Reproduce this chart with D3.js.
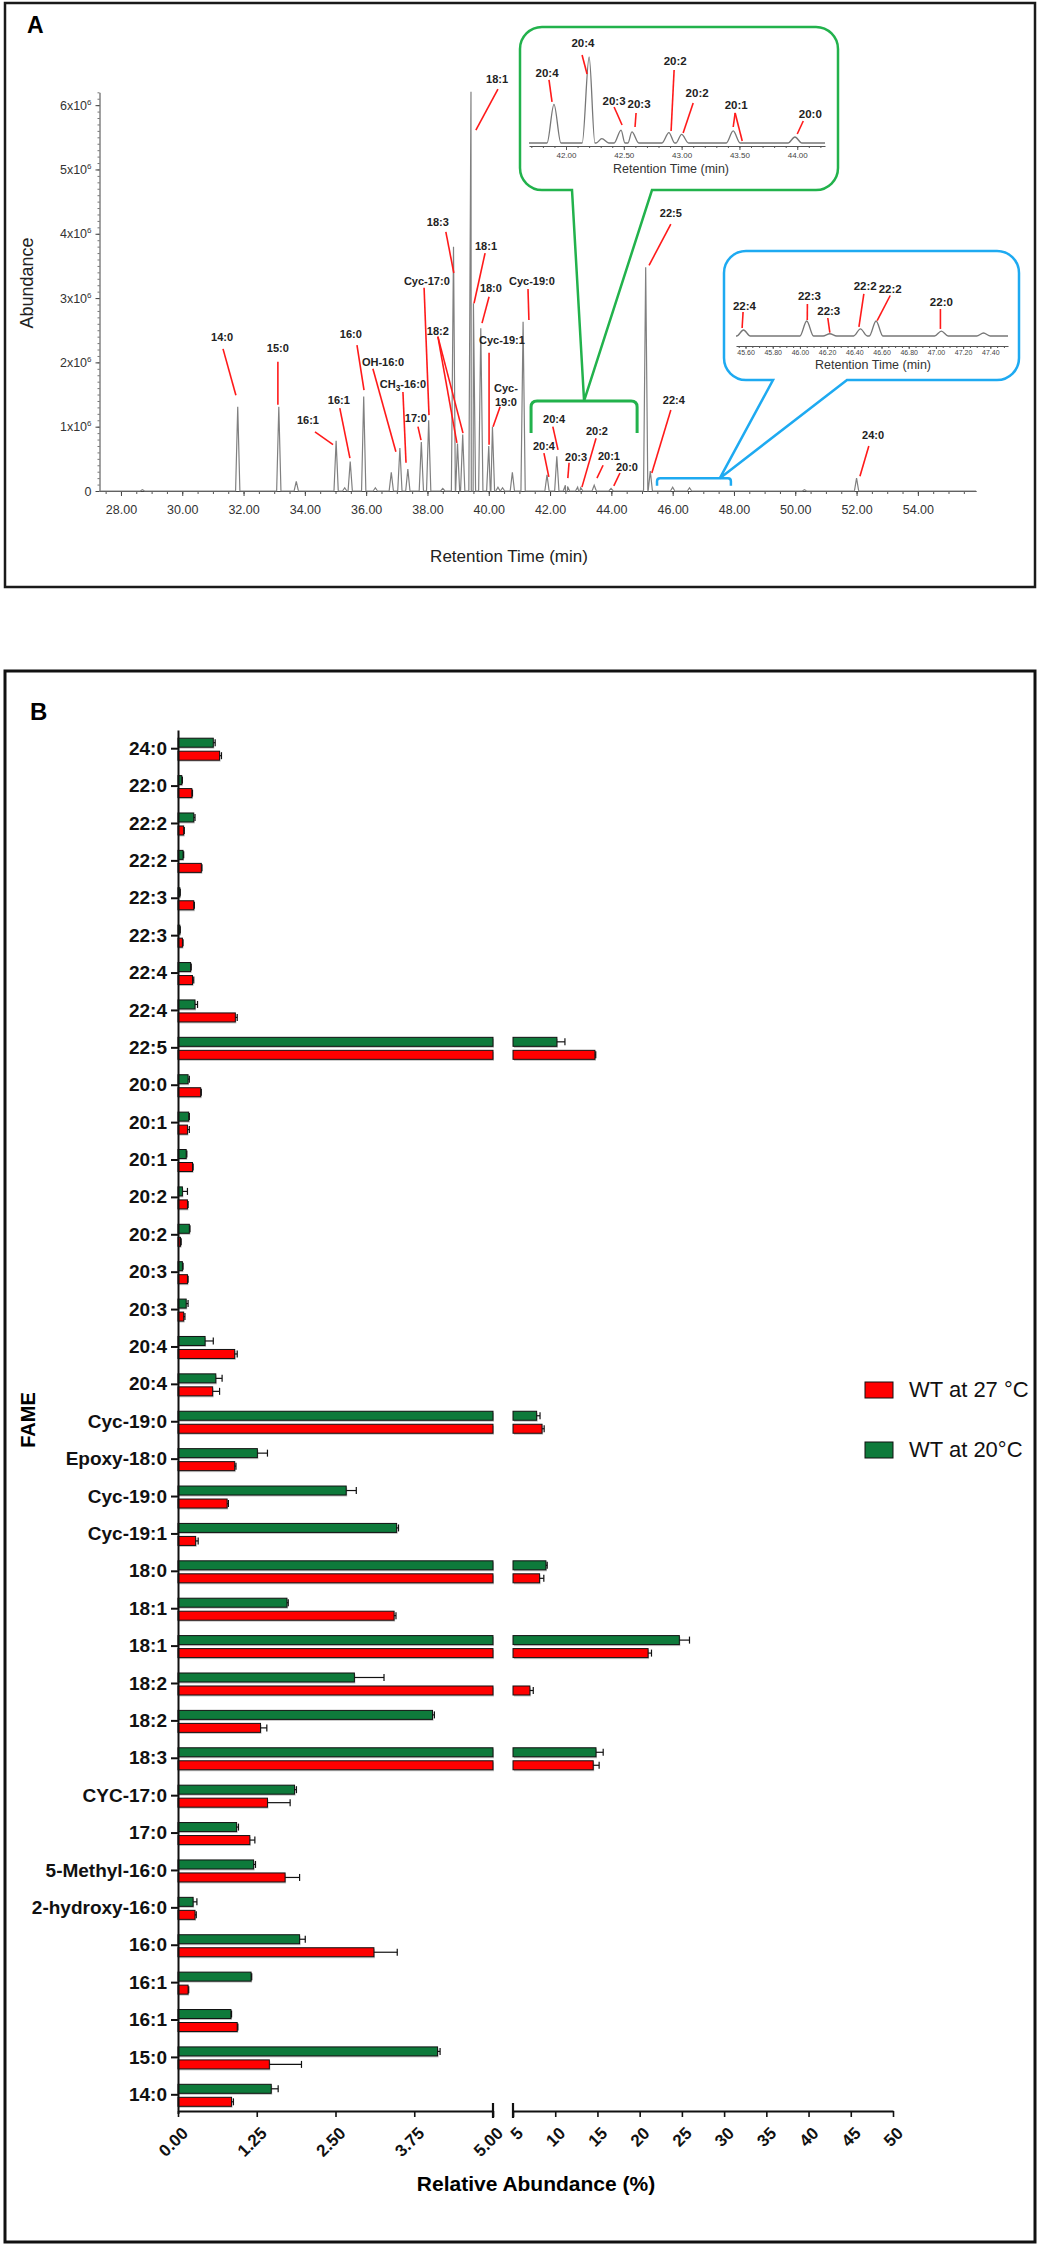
<!DOCTYPE html>
<html>
<head>
<meta charset="utf-8">
<script src="https://cdn.jsdelivr.net/npm/d3@7"></script>
<style>
  body { margin: 0; background: #fff; }
  svg { display: block; font-family: "Liberation Sans", Arial, sans-serif; }
</style>
</head>
<body>
<svg id="fig" width="1042" height="2252"></svg>
<script>
// ---------- Panel A data: GC-MS chromatogram ----------
// retention time (min) and abundance (x10^6) of each peak
const peakTimes   = [28.7, 31.81, 33.15, 33.72, 35.02, 35.30, 35.48, 35.92, 36.30, 36.82, 37.10, 37.36, 37.80, 38.04,
                     38.50, 38.85, 38.98, 39.15, 39.42, 39.50, 39.74, 40.00, 40.12, 40.30, 40.45, 40.77, 41.12,
                     41.90, 42.22, 42.50, 42.57, 42.90, 43.00, 43.44, 43.99, 45.12, 45.27, 46.00, 46.55, 50.30, 52.00];
const peakHeights = [0.02, 1.31, 1.31, 0.15, 0.78, 0.05, 0.46, 1.47, 0.05, 0.29, 0.67, 0.34, 0.76, 1.10,
                     0.04, 3.80, 0.74, 0.88, 6.21, 2.92, 2.53, 0.70, 1.00, 0.06, 0.05, 0.29, 2.63,
                     0.25, 0.54, 0.09, 0.07, 0.06, 0.05, 0.09, 0.04, 3.48, 0.31, 0.06, 0.05, 0.02, 0.20];
const timeTicks = [28, 30, 32, 34, 36, 38, 40, 42, 44, 46, 48, 50, 52, 54];
const abundanceTicks = [0, 1, 2, 3, 4, 5, 6];

// zoomed insets (relative intensity)
const greenTimes   = [41.896, 42.20, 42.31, 42.476, 42.57, 42.89, 43.00, 43.446, 43.98];
const greenHeights = [0.45, 1.0, 0.05, 0.15, 0.13, 0.12, 0.10, 0.14, 0.07];
const greenTicks   = [42, 42.5, 43, 43.5, 44];
const blueTimes    = [45.585, 46.05, 46.22, 46.445, 46.56, 47.04, 47.35];
const blueHeights  = [0.40, 1.0, 0.15, 0.47, 1.0, 0.33, 0.20];
const blueTicks    = [45.6, 45.8, 46.0, 46.2, 46.4, 46.6, 46.8, 47.0, 47.2, 47.4];

// peak annotations: label anchor, leader start and leader end(s) in data units
const mainLabels = [
  {text: '14:0', at: [31.30, 2.40], from: [31.33, 2.21], to: [[31.75, 1.49]]},
  {text: '15:0', at: [33.12, 2.22], from: [33.12, 2.01], to: [[33.12, 1.34]]},
  {text: '16:1', at: [35.11, 1.42], from: [35.14, 1.29], to: [[35.47, 0.51]]},
  {text: '16:1', at: [34.10, 1.10], from: [34.33, 0.92], to: [[34.92, 0.72]]},
  {text: '16:0', at: [35.50, 2.44], from: [35.70, 2.27], to: [[35.93, 1.57]]},
  {text: 'OH-16:0', at: [36.55, 2.01], from: [36.22, 1.90], to: [[36.97, 0.61]]},
  {text: 'CH|3|-16:0', at: [37.20, 1.66], from: [37.20, 1.54], to: [[37.30, 0.44]]},
  {text: '17:0', at: [37.62, 1.14], from: [37.69, 1.00], to: [[37.79, 0.79]]},
  {text: 'Cyc-17:0', at: [37.98, 3.27], from: [37.89, 3.16], to: [[38.05, 1.18]]},
  {text: '18:3', at: [38.34, 4.18], from: [38.60, 4.03], to: [[38.86, 3.39]]},
  {text: '18:1', at: [40.27, 6.41], from: [40.30, 6.25], to: [[39.58, 5.61]]},
  {text: '18:1', at: [39.91, 3.81], from: [39.88, 3.70], to: [[39.52, 2.92]]},
  {text: '18:0', at: [40.07, 3.16], from: [40.01, 3.02], to: [[39.78, 2.61]]},
  {text: '18:2', at: [38.34, 2.49], from: [38.34, 2.40], to: [[38.96, 0.75], [39.16, 0.90]]},
  {text: 'Cyc-19:1', at: [40.43, 2.35], from: [40.01, 2.15], to: [[40.01, 0.72]]},
  {text: 'Cyc-\n19:0', at: [40.56, 1.60], from: [40.37, 1.31], to: [[40.14, 1.00]]},
  {text: 'Cyc-19:0', at: [41.41, 3.27], from: [41.28, 3.14], to: [[41.31, 2.66]]},
  {text: '20:4', at: [41.80, 0.70], from: [41.80, 0.59], to: [[41.96, 0.22]]},
  {text: '20:4', at: [42.13, 1.12], from: [42.09, 1.00], to: [[42.26, 0.64]]},
  {text: '20:3', at: [42.85, 0.53], from: [42.62, 0.44], to: [[42.58, 0.20]]},
  {text: '20:2', at: [43.53, 0.93], from: [43.50, 0.82], to: [[43.04, 0.06]]},
  {text: '20:1', at: [43.92, 0.54], from: [43.73, 0.40], to: [[43.53, 0.20]]},
  {text: '20:0', at: [44.51, 0.37], from: [44.28, 0.28], to: [[44.08, 0.08]]},
  {text: '22:5', at: [45.94, 4.32], from: [45.94, 4.15], to: [[45.23, 3.51]]},
  {text: '22:4', at: [46.04, 1.42], from: [45.94, 1.26], to: [[45.32, 0.28]]},
  {text: '24:0', at: [52.54, 0.87], from: [52.40, 0.70], to: [[52.11, 0.23]]}
];
const greenLabels = [
  {text: '20:4', at: [41.836, 0.814], from: [41.853, 0.733], to: [[41.879, 0.477]]},
  {text: '20:4', at: [42.147, 1.163], from: [42.139, 1.023], to: [[42.182, 0.802]]},
  {text: '20:3', at: [42.416, 0.488], from: [42.416, 0.419], to: [[42.485, 0.209]]},
  {text: '20:3', at: [42.632, 0.453], from: [42.606, 0.349], to: [[42.597, 0.186]]},
  {text: '20:2', at: [42.944, 0.953], from: [42.935, 0.849], to: [[42.909, 0.140]]},
  {text: '20:2', at: [43.134, 0.581], from: [43.100, 0.465], to: [[43.013, 0.116]]},
  {text: '20:1', at: [43.472, 0.442], from: [43.463, 0.349], to: [[43.446, 0.186], [43.524, 0.023]]},
  {text: '20:0', at: [44.113, 0.337], from: [44.052, 0.256], to: [[44.0, 0.105]]}
];
const blueLabels = [
  {text: '22:4', at: [45.592, 2.03], from: [45.582, 1.6], to: [[45.575, 0.53]]},
  {text: '22:3', at: [46.07, 2.67], from: [46.055, 2.13], to: [[46.054, 1.07]]},
  {text: '22:3', at: [46.212, 1.67], from: [46.205, 1.2], to: [[46.22, 0.23]]},
  {text: '22:2', at: [46.48, 3.33], from: [46.47, 2.81], to: [[46.434, 0.61]]},
  {text: '22:2', at: [46.664, 3.13], from: [46.664, 2.70], to: [[46.568, 1.02]]},
  {text: '22:0', at: [47.04, 2.27], from: [47.033, 1.8], to: [[47.033, 0.47]]}
];

// ---------- Panel B data: relative abundance (%) ----------
const fames = ['24:0', '22:0', '22:2', '22:2', '22:3', '22:3', '22:4', '22:4', '22:5', '20:0', '20:1', '20:1',
  '20:2', '20:2', '20:3', '20:3', '20:4', '20:4', 'Cyc-19:0', 'Epoxy-18:0', 'Cyc-19:0', 'Cyc-19:1', '18:0',
  '18:1', '18:1', '18:2', '18:2', '18:3', 'CYC-17:0', '17:0', '5-Methyl-16:0', '2-hydroxy-16:0', '16:0',
  '16:1', '16:1', '15:0', '14:0'];
const wt20    = [0.56, 0.06, 0.25, 0.08, 0.03, 0.03, 0.20, 0.27, 10.2, 0.16, 0.17, 0.13, 0.07, 0.18, 0.07, 0.13,
  0.43, 0.60, 7.8, 1.26, 2.67, 3.47, 8.9, 1.73, 24.7, 2.80, 4.04, 14.83, 1.85, 0.93, 1.20, 0.24, 1.93, 1.16,
  0.84, 4.12, 1.48];
const wt20Err = [0.03, 0.01, 0.02, 0.01, 0.005, 0.005, 0.01, 0.04, 0.95, 0.02, 0.01, 0.01, 0.08, 0.01, 0.01,
  0.03, 0.13, 0.10, 0.4, 0.16, 0.16, 0.03, 0.15, 0.02, 1.2, 0.47, 0.03, 0.85, 0.03, 0.03, 0.03, 0.06, 0.09,
  0.01, 0.01, 0.04, 0.11];
const wt27    = [0.66, 0.22, 0.09, 0.37, 0.25, 0.07, 0.23, 0.91, 14.7, 0.36, 0.15, 0.23, 0.15, 0.04, 0.15, 0.09,
  0.90, 0.55, 8.44, 0.90, 0.78, 0.28, 8.15, 3.43, 21.0, 7.0, 1.31, 14.5, 1.42, 1.14, 1.70, 0.27, 3.11, 0.16,
  0.94, 1.45, 0.85];
const wt27Err = [0.03, 0.01, 0.01, 0.01, 0.01, 0.01, 0.02, 0.03, 0.1, 0.01, 0.03, 0.01, 0.01, 0.01, 0.01, 0.02,
  0.04, 0.11, 0.25, 0.02, 0.02, 0.04, 0.5, 0.03, 0.4, 0.4, 0.10, 0.7, 0.36, 0.08, 0.23, 0.02, 0.37, 0.01,
  0.01, 0.51, 0.03];
const lowTicks  = [0, 1.25, 2.5, 3.75, 5];
const highTicks = [5, 10, 15, 20, 25, 30, 35, 40, 45, 50];
const seriesNames = ['WT at 27 °C', 'WT at 20°C'];

const svg = d3.select('#fig');
const RED = '#ff0000';
const GREEN = '#0e7a3b';
const LEADER = '#ff1a1a';

function styleAxis(g, color, size) {
  g.attr('font-family', '"Liberation Sans", Arial, sans-serif').attr('font-size', size).attr('color', color);
}

function drawLabels(g, labels, xs, ys, size) {
  labels.forEach(l => {
    const sx = xs(l.from[0]), sy = ys(l.from[1]);
    l.to.forEach(p => {
      g.append('line')
        .attr('x1', sx).attr('y1', sy)
        .attr('x2', xs(p[0])).attr('y2', ys(p[1]))
        .attr('stroke', LEADER).attr('stroke-width', 1.6);
    });
    const tx = xs(l.at[0]);
    const text = g.append('text')
      .attr('x', tx).attr('y', ys(l.at[1]))
      .attr('text-anchor', 'middle')
      .attr('font-size', size).attr('font-weight', 'bold').attr('fill', '#222');
    l.text.split('\n').forEach((line, k) => {
      const row = text.append('tspan').attr('x', tx).attr('dy', k === 0 ? '0.35em' : 14);
      line.split('|').forEach((part, j) => {
        const t = row.append('tspan').text(part);
        if (j % 2 === 1) t.attr('font-size', size * 0.75).attr('dy', 3);
        else if (j > 0) t.attr('dy', -3);
      });
    });
  });
}

function tracePoints(times, heights, t0, t1, w) {
  const pts = [[t0, 0]];
  times.forEach((t, i) => pts.push([t - w, 0], [t, heights[i]], [t + w, 0]));
  pts.push([t1, 0]);
  return pts.sort((a, b) => a[0] - b[0]);
}

function bubble(x0, y0, x1, y1, r, tx0, tx1, px, py) {
  return `M${x0 + r},${y0} H${x1 - r} A${r},${r} 0 0 1 ${x1},${y0 + r} V${y1 - r} A${r},${r} 0 0 1 ${x1 - r},${y1}` +
    ` H${tx1} L${px},${py} L${tx0},${y1} H${x0 + r} A${r},${r} 0 0 1 ${x0},${y1 - r} V${y0 + r} A${r},${r} 0 0 1 ${x0 + r},${y0} Z`;
}

function bracket(xl, xr, yt, yb, r) {
  return `M${xl},${yb} V${yt + r} Q${xl},${yt} ${xl + r},${yt} H${xr - r} Q${xr},${yt} ${xr},${yt + r} V${yb}`;
}

// =============== Panel A ===============
svg.append('rect').attr('x', 5).attr('y', 3).attr('width', 1030).attr('height', 584)
  .attr('fill', 'none').attr('stroke', '#1a1a1a').attr('stroke-width', 2.5);
svg.append('text').attr('x', 27).attr('y', 33).attr('font-size', 23).attr('font-weight', 'bold').text('A');

const xA = d3.scaleLinear().domain([27.3, 55.9]).range([99.5, 976.1]);
const yA = d3.scaleLinear().domain([0, 6.2]).range([491, 92.3]);

const gA = svg.append('g');

// minor ticks
gA.append('g').attr('transform', 'translate(0,491)')
  .call(d3.axisBottom(xA).tickValues(d3.range(27.5, 56, 0.5)).tickSize(3).tickFormat(''))
  .call(g => g.select('.domain').remove())
  .call(g => styleAxis(g, '#555', 10));
gA.append('g').attr('transform', 'translate(99.5,0)')
  .call(d3.axisLeft(yA).tickValues(d3.range(0, 6.21, 0.1)).tickSize(2).tickFormat(''))
  .call(g => g.select('.domain').remove())
  .call(g => styleAxis(g, '#777', 10));

gA.append('g').attr('transform', 'translate(0,491)')
  .call(d3.axisBottom(xA).tickValues(timeTicks).tickFormat(d3.format('.2f')).tickSize(5).tickPadding(9).tickSizeOuter(0))
  .call(g => styleAxis(g, '#444', 12.5))
  .call(g => g.selectAll('.tick text').attr('fill', '#333'));

gA.append('g').attr('transform', 'translate(99.5,0)')
  .call(d3.axisLeft(yA).tickValues(abundanceTicks).tickSize(4).tickPadding(4).tickSizeOuter(0))
  .call(g => styleAxis(g, '#444', 12.5))
  .call(g => g.selectAll('.tick text').each(function (d) {
    const t = d3.select(this).text('').attr('fill', '#333');
    if (d === 0) { t.text('0'); return; }
    t.append('tspan').text(d + 'x10');
    t.append('tspan').attr('dy', -5).attr('font-size', 8).text('6');
  }));

gA.append('text').attr('transform', 'translate(33,283) rotate(-90)')
  .attr('text-anchor', 'middle').attr('font-size', 18).attr('fill', '#222').text('Abundance');
gA.append('text').attr('x', 509).attr('y', 562)
  .attr('text-anchor', 'middle').attr('font-size', 17).attr('fill', '#222').text('Retention Time (min)');

const lineA = d3.line().x(d => xA(d[0])).y(d => yA(d[1]));
gA.append('path')
  .attr('d', lineA(tracePoints(peakTimes, peakHeights, 27.3, 55.9, 0.07)))
  .attr('fill', 'none').attr('stroke', '#808080').attr('stroke-width', 1.2);

// brackets marking the zoomed regions
gA.append('path').attr('d', bracket(xA(41.38), xA(44.84), yA(1.40), yA(0.90), 6))
  .attr('fill', 'none').attr('stroke', '#22b24c').attr('stroke-width', 3);
gA.append('path').attr('d', bracket(xA(45.49), xA(47.90), yA(0.20), yA(0.08), 3))
  .attr('fill', 'none').attr('stroke', '#1eaaf1').attr('stroke-width', 2.5);

drawLabels(gA, mainLabels, xA, yA, 11);

// ---- green inset ----
const gG = svg.append('g');
gG.append('path').attr('d', bubble(520, 27, 838, 190, 22, 572, 652, xA((41.38 + 44.84) / 2), yA(1.40)))
  .attr('fill', '#fff').attr('stroke', '#22b24c').attr('stroke-width', 2.5);
const xG = d3.scaleLinear().domain([41.68, 44.24]).range([529, 825]);
const yG = d3.scaleLinear().domain([0, 1]).range([143, 57]);
gG.append('g').attr('transform', 'translate(0,146)')
  .call(d3.axisBottom(xG).tickValues(d3.range(41.7, 44.25, 0.1)).tickSize(2).tickFormat(''))
  .call(g => g.select('.domain').remove())
  .call(g => styleAxis(g, '#555', 8));
gG.append('g').attr('transform', 'translate(0,146)')
  .call(d3.axisBottom(xG).tickValues(greenTicks).tickFormat(d3.format('.2f')).tickSize(4).tickPadding(2).tickSizeOuter(0))
  .call(g => styleAxis(g, '#555', 8))
  .call(g => g.selectAll('.tick text').attr('fill', '#444'));
gG.append('path')
  .attr('d', d3.line().x(d => xG(d[0])).y(d => yG(d[1])).curve(d3.curveMonotoneX)(tracePoints(greenTimes, greenHeights, 41.68, 44.24, 0.06)))
  .attr('fill', 'none').attr('stroke', '#777').attr('stroke-width', 1.3);
gG.append('text').attr('x', 671).attr('y', 173).attr('text-anchor', 'middle')
  .attr('font-size', 12.5).attr('fill', '#333').text('Retention Time (min)');
drawLabels(gG, greenLabels, xG, yG, 11.5);

// ---- blue inset ----
const gB = svg.append('g');
gB.append('path').attr('d', bubble(724, 251, 1019, 380, 22, 773, 847, xA(47.54), yA(0.20)))
  .attr('fill', '#fff').attr('stroke', '#1eaaf1').attr('stroke-width', 2.5);
const xBl = d3.scaleLinear().domain([45.53, 47.53]).range([736, 1008]);
const yBl = d3.scaleLinear().domain([0, 1]).range([336, 321]);
gB.append('g').attr('transform', 'translate(0,346)')
  .call(d3.axisBottom(xBl).tickValues(d3.range(45.55, 47.53, 0.05)).tickSize(2).tickFormat(''))
  .call(g => g.select('.domain').remove())
  .call(g => styleAxis(g, '#555', 7));
gB.append('g').attr('transform', 'translate(0,346)')
  .call(d3.axisBottom(xBl).tickValues(blueTicks).tickFormat(d3.format('.2f')).tickSize(3).tickPadding(1).tickSizeOuter(0))
  .call(g => styleAxis(g, '#555', 7))
  .call(g => g.selectAll('.tick text').attr('fill', '#444'));
gB.append('path')
  .attr('d', d3.line().x(d => xBl(d[0])).y(d => yBl(d[1])).curve(d3.curveMonotoneX)(tracePoints(blueTimes, blueHeights, 45.53, 47.53, 0.05)))
  .attr('fill', 'none').attr('stroke', '#777').attr('stroke-width', 1.3);
gB.append('text').attr('x', 873).attr('y', 369).attr('text-anchor', 'middle')
  .attr('font-size', 12.5).attr('fill', '#333').text('Retention Time (min)');
drawLabels(gB, blueLabels, xBl, yBl, 11.5);

// =============== Panel B ===============
svg.append('rect').attr('x', 5).attr('y', 671).attr('width', 1030).attr('height', 1571)
  .attr('fill', 'none').attr('stroke', '#111').attr('stroke-width', 3);
svg.append('text').attr('x', 30).attr('y', 720).attr('font-size', 24).attr('font-weight', 'bold').text('B');

const yCat = d3.scaleBand().domain(d3.range(fames.length)).range([730, 2113.5]);
const ySer = d3.scaleBand().domain(['20', '27']).range([-10.5, 11.5]).paddingInner(4 / 13);
const xLo = d3.scaleLinear().domain([0, 5]).range([178, 493]);
const xHi = d3.scaleLinear().domain([5, 50]).range([513, 893]);
const xVal = v => (v <= 5 ? xLo(v) : xHi(v));

const series = [
  {key: '20', vals: wt20, errs: wt20Err, color: GREEN},
  {key: '27', vals: wt27, errs: wt27Err, color: RED}
];

const bars = [];
series.forEach(s => s.vals.forEach((v, i) => {
  bars.push({i, key: s.key, v, e: s.errs[i], color: s.color});
}));

const gBars = svg.append('g');
bars.forEach(b => {
  const y0 = yCat(b.i) + yCat.bandwidth() / 2 + ySer(b.key);
  const h = ySer.bandwidth();
  const segs = b.v <= 5 ? [[xLo(0), xLo(b.v)]] : [[xLo(0), xLo(5)], [xHi(5), xHi(b.v)]];
  segs.forEach(([a, c]) => {
    gBars.append('rect').attr('x', a + 1).attr('y', y0 + 1.5).attr('width', c - a).attr('height', h)
      .attr('fill', '#c4c4c4');
    gBars.append('rect').attr('x', a).attr('y', y0).attr('width', c - a).attr('height', h)
      .attr('fill', b.color).attr('stroke', '#111').attr('stroke-width', 1);
  });
  const xe = xVal(b.v + b.e);
  const ym = y0 + h / 2;
  gBars.append('line').attr('x1', xVal(b.v)).attr('x2', xe).attr('y1', ym).attr('y2', ym)
    .attr('stroke', '#111').attr('stroke-width', 1.2);
  gBars.append('line').attr('x1', xe).attr('x2', xe).attr('y1', ym - 3.5).attr('y2', ym + 3.5)
    .attr('stroke', '#111').attr('stroke-width', 1.2);
});

// category axis
svg.append('g').attr('transform', 'translate(178,0)')
  .call(d3.axisLeft(yCat).tickFormat(i => fames[i]).tickSize(7).tickPadding(4).tickSizeOuter(0))
  .call(g => styleAxis(g, '#111', 19))
  .call(g => g.attr('font-weight', 'bold'))
  .call(g => g.select('.domain').attr('stroke-width', 2))
  .call(g => g.selectAll('.tick line').attr('stroke-width', 2))
  .call(g => g.selectAll('.tick text').attr('fill', '#111'));

// broken value axis
function valueAxis(scale, ticks, fmt) {
  svg.append('g').attr('transform', 'translate(0,2111)')
    .call(d3.axisBottom(scale).tickValues(ticks).tickFormat(fmt).tickSize(6).tickSizeOuter(0))
    .call(g => styleAxis(g, '#111', 17))
    .call(g => g.attr('font-weight', 'bold'))
    .call(g => g.select('.domain').attr('stroke-width', 2))
    .call(g => g.selectAll('.tick line').attr('stroke-width', 1.6))
    .call(g => g.selectAll('.tick text')
      .attr('x', -9).attr('y', 24).attr('dy', 0)
      .attr('transform', 'rotate(-45)').attr('text-anchor', 'end').attr('fill', '#111'));
}
valueAxis(xLo, lowTicks, d3.format('.2f'));
valueAxis(xHi, highTicks, d3.format('d'));
[xLo(5), xHi(5)].forEach(x => {
  svg.append('line').attr('x1', x).attr('x2', x).attr('y1', 2103).attr('y2', 2118)
    .attr('stroke', '#111').attr('stroke-width', 2.2);
});

svg.append('text').attr('transform', 'translate(35,1420) rotate(-90)')
  .attr('text-anchor', 'middle').attr('font-size', 20).attr('font-weight', 'bold').text('FAME');
svg.append('text').attr('x', 536).attr('y', 2191)
  .attr('text-anchor', 'middle').attr('font-size', 21).attr('font-weight', 'bold').text('Relative Abundance (%)');

// legend
const legend = svg.append('g').attr('transform', 'translate(865,1382)');
[RED, GREEN].forEach((c, k) => {
  legend.append('rect').attr('x', 0).attr('y', k * 60).attr('width', 28).attr('height', 16)
    .attr('fill', c).attr('stroke', '#111').attr('stroke-width', 1);
  legend.append('text').attr('x', 44).attr('y', k * 60 + 15)
    .attr('font-size', 22).attr('fill', '#111').text(seriesNames[k]);
});
</script>
</body>
</html>
